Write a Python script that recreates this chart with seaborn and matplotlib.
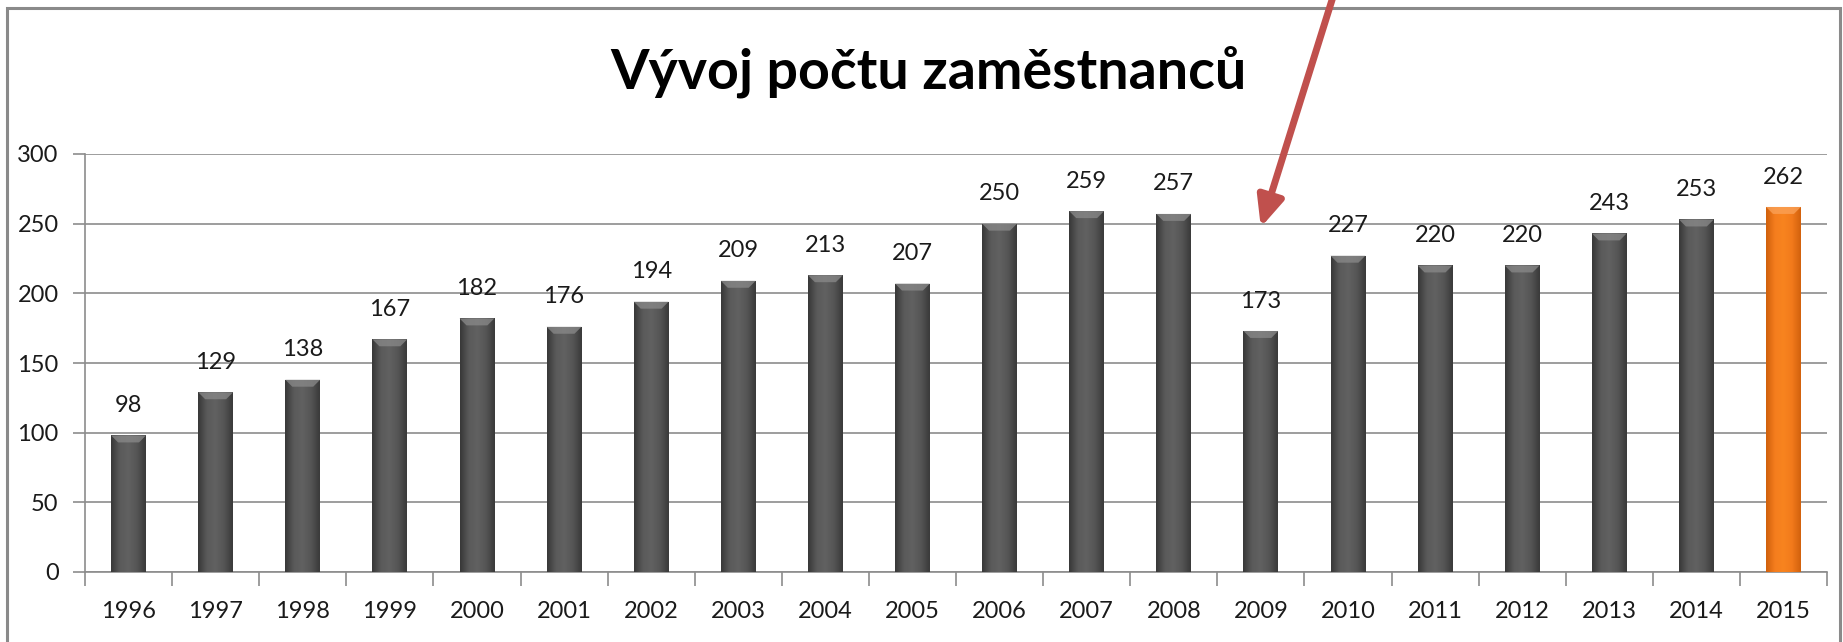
import matplotlib
matplotlib.use('Agg')
import numpy as np
import matplotlib.pyplot as plt
import seaborn as sns
from matplotlib.colors import LinearSegmentedColormap
from matplotlib.patches import Rectangle, FancyArrowPatch, Polygon
from matplotlib.ticker import MultipleLocator

sns.set_style('white')
plt.rcParams['font.family'] = ['Lato', 'DejaVu Sans']

# data
years = [str(y) for y in range(1996, 2016)]
employees = [98, 129, 138, 167, 182, 176, 194, 209, 213, 207,
             250, 259, 257, 173, 227, 220, 220, 243, 253, 262]
bar_colors = ['#555555'] * 19 + ['#F47A1F']
title = 'Vývoj počtu zaměstnanců'

# shading for the glossy bar look
gray_shade = LinearSegmentedColormap.from_list(
    'gray_shade', ['#383838', '#5a5a5a', '#616161', '#555555', '#3a3a3a'])
orange_shade = LinearSegmentedColormap.from_list(
    'orange_shade', ['#D0600C', '#F57D1E', '#F8841F', '#F27A1B', '#D2610D'])
shades = [gray_shade] * 19 + [orange_shade]
bevel_colors = ['#8a8a8a'] * 19 + ['#FBA35A']

W, H = 1843, 642
fig = plt.figure(figsize=(W / 100, H / 100), dpi=100)
ax = fig.add_axes([85 / W, 1 - 572 / H, (1827 - 85) / W, (572 - 154) / H])

sns.barplot(x=years, y=employees, hue=years, palette=bar_colors,
            width=0.4, legend=False, ax=ax, saturation=1)

ax.set_ylim(0, 300)
ax.set_xlim(-0.5, len(years) - 0.5)

grad = np.linspace(0, 1, 64).reshape(1, -1)
bevel = 5  # data units
for patch, cmap, bcol in zip(ax.patches, shades, bevel_colors):
    x0, w, h = patch.get_x(), patch.get_width(), patch.get_height()
    patch.set_edgecolor('none')
    patch.set_zorder(3)
    img = ax.imshow(grad, cmap=cmap, aspect='auto', extent=[x0, x0 + w, 0, h],
                    zorder=3.5, interpolation='bicubic')
    img.set_clip_path(patch)
    top = Polygon([[x0, h], [x0 + w, h], [x0 + w * 0.8, h - bevel],
                   [x0 + w * 0.2, h - bevel]], closed=True,
                  facecolor=bcol, edgecolor='none', alpha=0.75, zorder=4)
    ax.add_patch(top)

for cont in ax.containers:
    ax.bar_label(cont, padding=14, fontsize=17, color='#1a1a1a')

ax.set_ylim(0, 300)
ax.set_xlim(-0.5, len(years) - 0.5)
ax.yaxis.set_major_locator(MultipleLocator(50))
ax.grid(axis='y', color='#8c8c8c', linewidth=1.2, zorder=0)
ax.set_axisbelow(True)
ax.set_xlabel('')
ax.set_ylabel('')

for side in ['top', 'right']:
    ax.spines[side].set_visible(False)
for side in ['left', 'bottom']:
    ax.spines[side].set_color('#8c8c8c')
    ax.spines[side].set_linewidth(1.2)

ax.tick_params(axis='y', length=9, width=1.2, color='#8c8c8c', pad=10,
               labelsize=17, labelcolor='#1a1a1a', left=True)
ax.tick_params(axis='x', which='major', length=0, pad=21,
               labelsize=17, labelcolor='#1a1a1a')
ax.set_xticks([i + 0.5 for i in range(-1, len(years))], minor=True)
ax.tick_params(axis='x', which='minor', length=10, width=1.2,
               color='#8c8c8c', bottom=True)

fig.text(928 / W, 1 - 72 / H, title, ha='center', va='center',
         fontsize=40, fontweight='bold', color='black')

# outer frame
fig.add_artist(Rectangle((7 / W, -0.1), (1840 - 7) / W, 1.1 - 8 / H,
                         transform=fig.transFigure, fill=False,
                         edgecolor='#8a8a8a', linewidth=2.2))

# red arrow pointing at 2009
arrow = FancyArrowPatch((1334 / W, 1.01), (1260 / W, 1 - 230 / H),
                        transform=fig.transFigure,
                        arrowstyle='-|>,head_width=8,head_length=18',
                        color='#C0504D', linewidth=5, mutation_scale=1)
fig.add_artist(arrow)

fig.savefig('out.png', dpi=100)
